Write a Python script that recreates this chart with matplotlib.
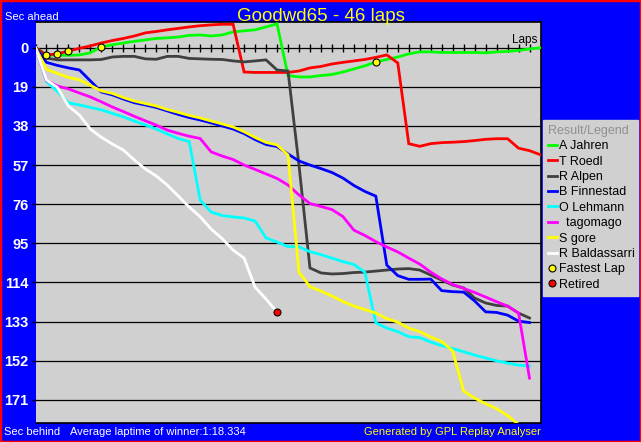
"""
Lap chart: gap to the winner per lap (GPL Replay Analyser style).
"""

import matplotlib
matplotlib.use("Agg")
import matplotlib.pyplot as plt
from matplotlib.lines import Line2D
from matplotlib.patches import Rectangle

W, H = 641, 442
DPI = 100
BG = "#0000ff"
PLOT_BG = "#d0d0d0"

plt.rcParams["font.family"] = ["Liberation Sans", "DejaVu Sans"]

# seconds behind the winner after each lap (negative = ahead)
jahren = [0, 3.5, 3.7, 3.7, 3.5, 2.5, -0.5, -1.4, -2.3, -3.1, -3.8,
          -4.5, -4.8, -5.2, -6.0, -6.2, -5.7, -6.2, -7.7, -8.2, -8.7,
          -10.1, -11.6, 13.5, 14.2, 14.2, 13.5, 13.0, 11.8, 10.3, 8.8,
          6.9, 5.7, 4.5, 3.0, 2.0, 2.0, 2.3, 2.3, 2.3, 2.3,
          2.5, 2.0, 1.8, 1.3, 0.6, 0.0]
roedl = [0, 3.5, 3.0, 1.6, 0.3, -0.9, -2.3, -3.5, -4.5, -5.7, -7.2,
         -7.9, -8.7, -9.4, -10.1, -10.7, -11.1, -11.4, -11.4, 11.8, 12.0,
         12.0, 12.0, 12.0, 11.3, 9.8, 9.1, 7.9, 7.1, 6.4, 5.7,
         4.7, 3.5, 7.4, 46.6, 47.9, 46.6, 46.1, 45.9, 45.6, 45.1,
         44.5, 44.2, 44.2, 48.8, 50.0, 52.0]
alpen = [0, 5.0, 5.9, 5.9, 5.9, 5.9, 5.7, 4.5, 4.2, 4.2, 5.4,
         5.6, 4.2, 4.2, 5.2, 5.4, 5.6, 5.7, 6.4, 6.9, 6.4,
         5.9, 10.8, 11.3, 57.0, 107.0, 109.4, 109.9, 109.7, 109.2, 109.0,
         108.5, 108.0, 107.5, 107.3, 108.0, 110.4, 112.9, 115.3, 116.7, 121.6,
         124.0, 125.2, 125.5, 128.9, 131.3]
finnestad = [0, 7.1, 8.6, 9.8, 10.8, 16.1, 21.5, 22.9, 24.9, 26.7, 27.8,
             29.0, 30.7, 32.4, 33.9, 35.1, 36.5, 38.0, 39.5, 41.7, 44.6,
             47.0, 48.0, 51.6, 55.0, 57.0, 58.7, 60.6, 63.3, 66.9, 69.8,
             72.1, 105.6, 110.7, 112.5, 112.5, 112.4, 118.0, 118.5, 118.7, 123.0,
             128.3, 128.6, 129.9, 132.8, 133.5]
lehmann = [0, 16.5, 21.2, 26.8, 27.8, 29.0, 30.2, 31.9, 33.6, 35.6, 37.5,
           39.5, 41.9, 44.1, 45.6, 74.0, 79.8, 81.5, 82.2, 82.7, 84.2,
           92.4, 94.4, 96.6, 96.7, 99.1, 100.5, 102.2, 103.9, 105.3, 109.0,
           133.7, 136.2, 137.9, 140.4, 140.8, 143.0, 144.7, 146.1, 147.7, 149.3,
           150.7, 152.1, 153.2, 154.2, 154.6]
tagomago = [0, 15.9, 18.6, 20.0, 22.0, 23.9, 26.3, 28.8, 31.0, 33.3, 35.5,
            37.6, 40.0, 41.6, 43.0, 44.1, 50.6, 52.6, 54.3, 57.0, 59.1,
            61.3, 63.5, 66.7, 71.5, 75.7, 77.1, 78.6, 82.0, 88.6, 91.2,
            94.2, 96.8, 99.2, 102.2, 105.1, 109.0, 112.3, 115.0, 116.9, 118.9,
            121.1, 123.4, 125.5, 128.9, 160.5]
gore = [0, 10.5, 12.5, 14.4, 15.6, 18.3, 21.0, 22.2, 24.2, 25.9, 27.1,
        28.3, 30.0, 31.4, 32.9, 34.1, 35.6, 37.0, 38.5, 40.8, 43.6,
        46.0, 47.2, 52.1, 109.0, 116.1, 118.2, 120.6, 123.3, 125.5, 127.2,
        128.9, 131.6, 133.3, 136.2, 137.9, 140.5, 142.7, 147.3, 166.8, 170.2,
        172.9, 175.3, 178.7, 183.0]
baldassarri = [0, 15.6, 19.3, 28.3, 32.7, 39.5, 43.5, 46.8, 49.7, 54.5, 58.9,
               62.3, 66.7, 72.0, 77.4, 82.1, 88.1, 92.7, 98.3, 102.2, 116.3,
               122.1, 128.4]

drivers = ["A Jahren", "T Roedl", "R Alpen", "B Finnestad", "O Lehmann",
           "  tagomago", "S gore", "R Baldassarri"]
series = [jahren, roedl, alpen, finnestad, lehmann, tagomago, gore, baldassarri]
colors = ["#00ff00", "#ff0000", "#404040", "#0000ff", "#00ffff",
          "#ff00ff", "#ffff00", "#ffffff"]

# fastest lap markers: (driver index, lap)
fastest = [(1, 1), (1, 2), (1, 3), (0, 6), (0, 31)]
retired = [(7, 22)]

total_laps = 46
yticks = [0, 19, 38, 57, 76, 95, 114, 133, 152, 171]


def main():
    fig = plt.figure(figsize=(W / DPI, H / DPI), dpi=DPI, facecolor=BG)
    ax = fig.add_axes([35.5 / W, 1 - 423 / H, 505 / W, 401 / H])
    ax.set_facecolor(PLOT_BG)

    ax.set_xlim(0, total_laps)
    ax.set_ylim(182.3, -12.5)

    for s in ("top", "right", "bottom"):
        ax.spines[s].set_color("black")
        ax.spines[s].set_linewidth(1.2)
    ax.spines["left"].set_visible(False)

    ax.set_xticks([])
    ax.set_yticks(yticks)
    ax.set_yticklabels([str(t) for t in yticks], color="white",
                       fontweight="bold", fontsize=10.5)
    ax.tick_params(axis="y", length=3, width=1, color="black", pad=2)
    ax.grid(axis="y", color="black", linewidth=0.9)

    # lap ticks along the zero line
    laps_all = list(range(total_laps + 1))
    ax.plot(laps_all, [0] * len(laps_all), ls="none", marker="|", ms=6,
            mew=1, color="black", zorder=1.8)
    ax.annotate("Laps", xy=(total_laps, 0), xytext=(-2, 1),
                textcoords="offset points", ha="right", va="bottom",
                fontsize=8.5, color="black")

    for vals, c in zip(series, colors):
        ax.plot(range(len(vals)), vals, color=c, lw=2.0, zorder=3,
                solid_joinstyle="miter")

    for i, lap in fastest:
        ax.plot(lap, series[i][lap], ls="none", marker="o", ms=5,
                mfc="#ffff00", mec="black", mew=0.8, zorder=5)
    for i, lap in retired:
        ax.plot(lap, series[i][lap], ls="none", marker="o", ms=5,
                mfc="#ff0000", mec="black", mew=0.8, zorder=5)

    # legend
    handles = [Line2D([], [], color=c, lw=2) for c in colors]
    handles.append(Line2D([], [], ls="none", marker="o", ms=5,
                          mfc="#ffff00", mec="black", mew=0.8))
    handles.append(Line2D([], [], ls="none", marker="o", ms=5,
                          mfc="#ff0000", mec="black", mew=0.8))
    labels = drivers + ["Fastest Lap", "Retired"]
    leg = fig.legend(handles, labels, loc="upper left",
                     bbox_to_anchor=(543 / W, 1 - 290 / H, 95 / W, 170 / H),
                     mode="expand", title="Result/Legend",
                     alignment="left", fontsize=9, title_fontsize=9,
                     handlelength=0.7, handletextpad=0.15,
                     labelspacing=0.27, borderpad=0.4,
                     borderaxespad=0, fancybox=False, frameon=True)
    leg.get_frame().set_facecolor(PLOT_BG)
    leg.get_frame().set_edgecolor(PLOT_BG)
    leg.get_frame().set_alpha(1)
    leg.get_title().set_color("#909090")

    # captions
    fig.text(0.5, 1 - 21 / H, "Goodwd65 - 46 laps", ha="center",
             va="baseline", color="#ffff00", fontsize=13.5)
    fig.text(5 / W, 1 - 19.5 / H, "Sec ahead", ha="left", va="baseline",
             color="white", fontsize=8)
    fig.text(4 / W, 1 - 435 / H, "Sec behind", ha="left", va="baseline",
             color="white", fontsize=8)
    fig.text(70 / W, 1 - 435 / H, "Average laptime of winner:1:18.334",
             ha="left", va="baseline", color="white", fontsize=8)
    fig.text(541 / W, 1 - 435 / H, "Generated by GPL Replay Analyser",
             ha="right", va="baseline", color="#ffff00", fontsize=8)

    fig.patches.append(Rectangle((0, 0), 1, 1, transform=fig.transFigure,
                                 fill=False, ec="#ff0000", lw=2.5))

    fig.savefig("out.png", dpi=DPI, facecolor=BG)
    plt.close(fig)


if __name__ == "__main__":
    main()
